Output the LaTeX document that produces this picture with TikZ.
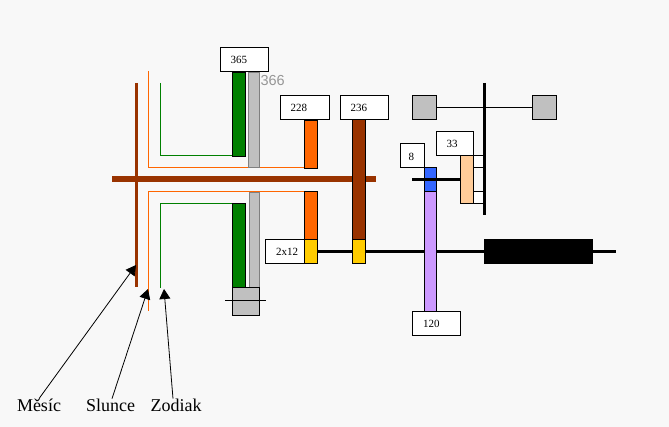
\documentclass[tikz,border=0pt]{standalone}
\usepackage{fontspec}
\setmainfont{Liberation Serif}
\newfontfamily\lblsans{Liberation Sans}
\usetikzlibrary{arrows.meta}
\definecolor{bgc}{HTML}{F8F8F8}
\definecolor{cgreen}{HTML}{008000}
\definecolor{corange}{HTML}{FF6600}
\definecolor{cbrown}{HTML}{993300}
\definecolor{cgray}{HTML}{C0C0C0}
\definecolor{cyellow}{HTML}{FFCC00}
\definecolor{cblue}{HTML}{3366FF}
\definecolor{cpurple}{HTML}{CC99FF}
\definecolor{cpeach}{HTML}{FFCC99}
\definecolor{ctext}{HTML}{969696}
\tikzset{
  gearpart/.style={draw=black,line width=0.9pt,inner sep=0,outer sep=0},
  graypart/.style={gearpart,draw=gray,fill=cgray},
  tagbox/.style={gearpart,fill=white},
  boxnum/.style={inner sep=0,outer sep=0,anchor=west,font=\fontsize{11}{11}\selectfont},
  wordlabel/.style={inner sep=0,outer sep=0,font=\fontsize{18}{18}\selectfont},
  sleeve/.style={line width=1.25pt},
  pointer/.style={line width=0.8pt,-{Triangle[length=10pt,width=11pt]}}
}
% name, style, x1, y1, x2, y2
\newcommand{\partbox}[6]{%
  \pgfmathsetmacro{\pbw}{#5-#3}\pgfmathsetmacro{\pbh}{#6-#4}%
  \node[#2,minimum width=\pbw pt,minimum height=\pbh pt] (#1) at ({(#3+#5)/2},{(#4+#6)/2}) {};}
\begin{document}
\begin{tikzpicture}[x=1pt,y=-1pt]
\useasboundingbox[fill=bgc] (0,0) rectangle (669,427);
% coordinates of the sleeves
\coordinate (or1) at (148.5,71);
\coordinate (or2) at (148.5,167.5);
\coordinate (or3) at (304,167.5);
\coordinate (or4) at (148.5,311);
\coordinate (or5) at (148.5,191.5);
\coordinate (or6) at (304,191.5);
\coordinate (gr1) at (160.5,83);
\coordinate (gr2) at (160.5,155.5);
\coordinate (gr3) at (232,155.5);
\coordinate (gr4) at (160.5,288);
\coordinate (gr5) at (160.5,203.5);
\coordinate (gr6) at (232,203.5);
\draw[corange,sleeve] (or1) -- (or2) -- (or3);
\draw[corange,sleeve] (or4) -- (or5) -- (or6);
\draw[cgreen,sleeve] (gr1) -- (gr2) -- (gr3);
\draw[cgreen,sleeve] (gr4) -- (gr5) -- (gr6);
% main shafts
\coordinate (ms1) at (112,179);
\coordinate (ms2) at (376,179);
\draw[cbrown,line width=6pt] (ms1) -- (ms2);
\coordinate (mv1) at (136.5,83);
\coordinate (mv2) at (136.5,287);
\draw[cbrown,line width=3pt] (mv1) -- (mv2);
\coordinate (ls1) at (304,251.5);
\coordinate (ls2) at (616,251.5);
\draw[black,line width=3pt] (ls1) -- (ls2);
% upper gears
\partbox{greenA}{gearpart,fill=cgreen}{232.5}{72}{245}{156}
\partbox{grayA}{graypart}{248.5}{72}{259}{167}
\partbox{orA}{gearpart,fill=corange}{304.5}{120}{317}{168}
\partbox{brA}{gearpart,fill=cbrown}{352.5}{119}{365}{239.5}
\partbox{tag365}{tagbox}{220.5}{47.5}{268.5}{71.5}
\partbox{tag228}{tagbox}{280.5}{95.5}{329}{119.5}
\partbox{tag236}{tagbox}{340.5}{95.5}{388.5}{119.5}
% lower gears
\partbox{greenB}{gearpart,fill=cgreen}{232.5}{203.5}{245}{287.5}
\partbox{grayB}{graypart}{249}{192}{259}{287.5}
\partbox{orB}{gearpart,fill=corange}{304.5}{191.5}{317}{239.5}
\partbox{yeA}{gearpart,fill=cyellow}{304.5}{239.5}{317}{263}
\partbox{yeB}{gearpart,fill=cyellow}{352.5}{239.5}{365}{263}
\partbox{tag2x12}{tagbox}{265.5}{239.5}{304.5}{263}
\partbox{grayC}{gearpart,fill=cgray}{232.5}{287.5}{259}{315.5}
\coordinate (st1) at (225,300);
\coordinate (st2) at (266,300);
\draw[black,line width=0.9pt] (st1) -- (st2);
% governor
\partbox{govL}{gearpart,fill=cgray}{412.5}{95.5}{436.5}{119.5}
\partbox{govR}{gearpart,fill=cgray}{532.5}{95.5}{556.5}{119.5}
\draw[black,line width=0.9pt] (govL.east) -- (govR.west);
\partbox{linkA}{tagbox}{473}{155.5}{485}{167.5}
\partbox{linkB}{tagbox}{473}{191.5}{485}{203.5}
\coordinate (gv1) at (484.5,83);
\coordinate (gv2) at (484.5,215);
\draw[black,line width=3pt] (gv1) -- (gv2);
\partbox{peach}{gearpart,fill=cpeach}{460.5}{155.5}{473}{203.5}
\partbox{tag33}{tagbox}{436.5}{131.5}{473}{155.5}
% gear train 8 / 120
\partbox{purple}{gearpart,fill=cpurple}{424.5}{191.5}{436.5}{311.5}
\partbox{blue}{gearpart,fill=cblue}{424.5}{167.5}{436.5}{191.5}
\coordinate (ss1) at (412,179.5);
\draw[black,line width=3pt] (ss1) -- (peach.west |- ss1);
\partbox{tag8}{tagbox}{400.5}{143.5}{424.5}{167.5}
\partbox{tag120}{tagbox}{412.5}{311.5}{460.5}{335.5}
% weight
\node[fill=black,inner sep=0,outer sep=0,minimum width=109pt,minimum height=25pt] (weight) at (538.5,251.5) {};
% box numbers
\node[boxnum] (n365) at (230.5,60) {365};
\node[boxnum] (n228) at (290.5,108) {228};
\node[boxnum] (n236) at (350.5,108) {236};
\node[boxnum] (n2x12) at (276,252) {2x12};
\node[boxnum] (n8) at (408.5,157) {8};
\node[boxnum] (n33) at (446.5,144) {33};
\node[boxnum] (n120) at (423,324) {120};
\node[inner sep=0,outer sep=0,anchor=west,text=ctext,font=\lblsans\fontsize{14.5}{14.5}\selectfont] (n366) at (260.5,81) {366};
% pointers
\node[wordlabel] (mesic) at (39,405) {Měsíc};
\node[wordlabel] (slunce) at (110.5,405) {Slunce};
\node[wordlabel] (zodiak) at (176,405) {Zodiak};
\coordinate (tipM) at (136,265);
\coordinate (tipS) at (148,289);
\coordinate (tipZ) at (164,289);
\draw[pointer] (mesic.north) -- (tipM);
\draw[pointer] ([xshift=1.5pt]slunce.north) -- (tipS);
\draw[pointer] ([xshift=-3pt]zodiak.north) -- (tipZ);
\end{tikzpicture}
\end{document}
